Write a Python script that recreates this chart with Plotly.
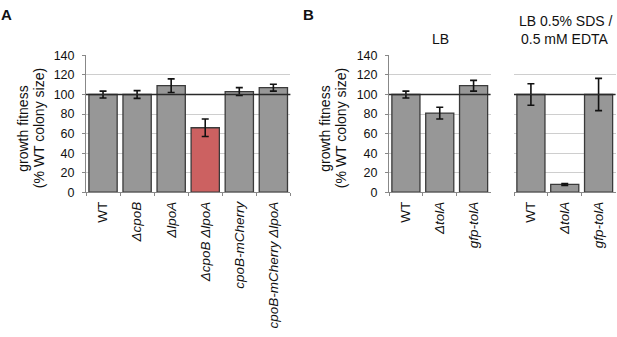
import plotly.graph_objects as go

# ---- data ----
a_labels = ["WT", "<i>ΔcpoB</i>", "<i>ΔlpoA</i>", "<i>ΔcpoB ΔlpoA</i>",
            "<i>cpoB-mCherry</i>", "<i>cpoB-mCherry ΔlpoA</i>"]
a_values = [100, 100, 109, 66, 103, 107]
a_errors = [3.5, 4, 7, 9, 4, 3.5]
a_colors = ["#979797", "#979797", "#979797", "#cc6161", "#979797", "#979797"]

b_labels = ["WT", "<i>ΔtolA</i>", "<i>gfp-tolA</i>"]
lb_values = [100, 81, 109]
lb_errors = [3.5, 6, 5.5]
sds_values = [100, 8, 100]
sds_errors = [11, 1, 16.5]

y_ticks = [0, 20, 40, 60, 80, 100, 120, 140]
ref_level = 100

FONT = "Liberation Sans, Arial, sans-serif"
W, H = 617, 337
EDGE = "#3a3a3a"

def px(x):
    return x / W

def py(y):
    return 1 - y / H

fig = go.Figure()

def add_bars(labels, values, errors, colors, xa, ya):
    fig.add_trace(go.Bar(
        x=labels, y=values, xaxis=xa, yaxis=ya,
        marker=dict(color=colors, line=dict(color=EDGE, width=1.3)),
        error_y=dict(type="data", array=errors, color="#111111",
                     thickness=1.6, width=3.5),
        showlegend=False, hoverinfo="skip",
    ))

add_bars(a_labels, a_values, a_errors, a_colors, "x", "y")
add_bars(b_labels, lb_values, lb_errors, ["#979797"] * 3, "x2", "y2")
add_bars(b_labels, sds_values, sds_errors, ["#979797"] * 3, "x3", "y3")

ydom = [py(193.3), py(50.5)]
xdoms = [[px(86), px(290.4)], [px(389), px(490.5)], [px(514), px(615.5)]]

def xaxis(dom, anchor):
    return dict(domain=dom, anchor=anchor, type="category",
                tickangle=-90, tickson="boundaries", ticks="outside",
                ticklen=3, tickcolor="#888888", showline=True,
                linecolor="#888888", linewidth=1, showgrid=False,
                ticklabelstandoff=3,
                tickfont=dict(family=FONT, size=13.5, color="#111111"),
                fixedrange=True)

def yaxis(anchor, labels=True, line=True):
    return dict(domain=ydom, anchor=anchor, range=[0, 140],
                tickvals=y_ticks, showticklabels=labels,
                ticks="outside" if labels else "", ticklen=3,
                tickcolor="#888888", showline=line, linecolor="#888888",
                linewidth=1, showgrid=True, gridcolor="#cecece",
                gridwidth=1, zeroline=False, ticklabelstandoff=5,
                tickfont=dict(family=FONT, size=12.5, color="#111111"),
                fixedrange=True)

fig.update_layout(
    width=W, height=H,
    margin=dict(l=0, r=0, t=0, b=0),
    paper_bgcolor="white", plot_bgcolor="white",
    bargap=0.17,
    xaxis=xaxis(xdoms[0], "y"),
    xaxis2=xaxis(xdoms[1], "y2"),
    xaxis3=xaxis(xdoms[2], "y3"),
    yaxis=yaxis("x"),
    yaxis2=yaxis("x2"),
    yaxis3=yaxis("x3", labels=False, line=False),
    font=dict(family=FONT, color="#111111"),
)

# reference line at 100 in every panel
for xr, yr in [("x", "y"), ("x2", "y2"), ("x3", "y3")]:
    fig.add_shape(type="line", xref=f"{xr} domain", yref=yr,
                  x0=0, x1=1, y0=ref_level, y1=ref_level,
                  line=dict(color="#2a2a2a", width=1.3), layer="above")

annots = [
    dict(text="<b>A</b>", x=px(6), y=py(7.5), font=dict(size=15)),
    dict(text="<b>B</b>", x=px(308), y=py(7.5), font=dict(size=15)),
    dict(text="growth fitness", x=px(23), y=py(127), textangle=-90,
         font=dict(size=14)),
    dict(text="(% WT colony size)", x=px(38.5), y=py(127), textangle=-90,
         font=dict(size=14)),
    dict(text="growth fitness", x=px(325), y=py(127), textangle=-90,
         font=dict(size=14)),
    dict(text="(% WT colony size)", x=px(340.5), y=py(127), textangle=-90,
         font=dict(size=14)),
    dict(text="LB", x=px(440), y=py(33), font=dict(size=14)),
    dict(text="LB 0.5% SDS /", x=px(565), y=py(14.5), font=dict(size=14)),
    dict(text="0.5 mM EDTA", x=px(565), y=py(33), font=dict(size=14)),
]
for a in annots:
    a.update(xref="paper", yref="paper", showarrow=False,
             xanchor="center", yanchor="middle")
    a["font"].update(family=FONT, color="#111111")
fig.update_layout(annotations=annots)

fig.write_html("out.html", config={"displayModeBar": False},
               post_script="document.body.style.margin='0';"
                           "document.body.style.overflow='hidden';")
